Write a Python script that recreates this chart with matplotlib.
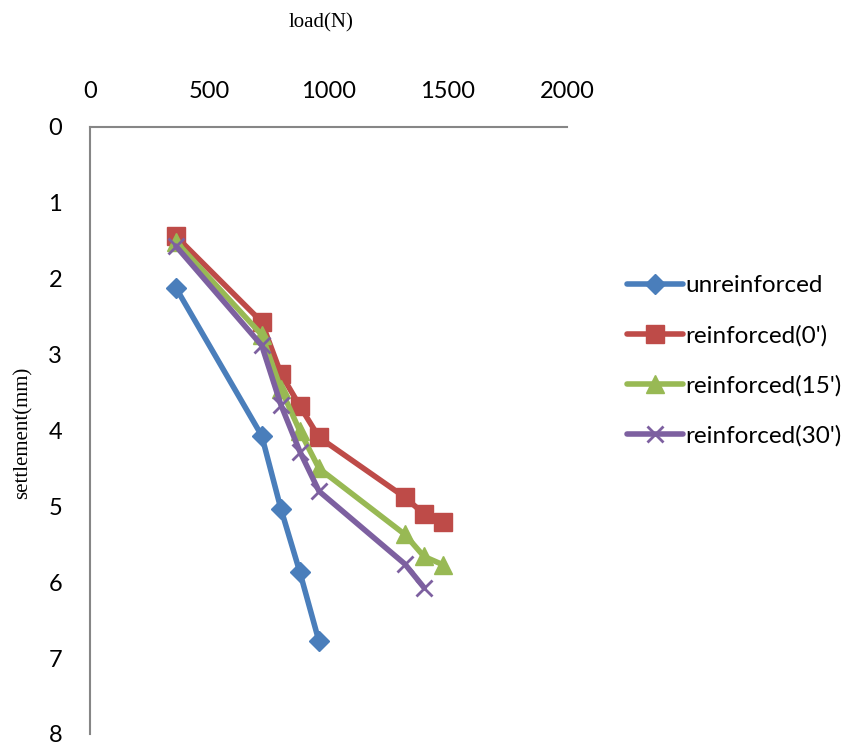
import matplotlib
matplotlib.use('Agg')
import matplotlib.pyplot as plt

# load (N) and settlement (mm)
load_un = [360, 720, 800, 880, 960]
settle_un = [2.12, 4.07, 5.03, 5.87, 6.78]

load_r = [360, 720, 800, 880, 960, 1320, 1400, 1480]
settle_r0 = [1.44, 2.57, 3.25, 3.68, 4.09, 4.88, 5.10, 5.20]
settle_r15 = [1.51, 2.74, 3.45, 4.01, 4.50, 5.37, 5.66, 5.77]
settle_r30 = [1.57, 2.88, 3.66, 4.28, 4.80, 5.76, 6.07]

labels = ['unreinforced', "reinforced(0')", "reinforced(15')", "reinforced(30')"]
xticks = [0, 500, 1000, 1500, 2000]
yticks = [0, 1, 2, 3, 4, 5, 6, 7, 8]

plt.rcParams['font.family'] = ['Lato', 'DejaVu Sans']

fig = plt.figure(figsize=(8.47, 7.46), dpi=100)
ax = fig.add_axes([0.1063, 0.0161, 0.5632, 0.8137])

ax.plot(load_un, settle_un, color='#4A7EBB', lw=4, marker='D', ms=10,
        label=labels[0], solid_capstyle='round', solid_joinstyle='round')
ax.plot(load_r, settle_r0, color='#BE4B48', lw=4, marker='s', ms=13,
        label=labels[1], solid_capstyle='round', solid_joinstyle='round')
ax.plot(load_r, settle_r15, color='#98B954', lw=4, marker='^', ms=13,
        label=labels[2], solid_capstyle='round', solid_joinstyle='round')
ax.plot(load_r[:len(settle_r30)], settle_r30, color='#7D60A0', lw=4, marker='x',
        ms=12, mew=2, label=labels[3], solid_capstyle='round', solid_joinstyle='round')

ax.set_xlim(0, 2000)
ax.set_ylim(8, 0)
ax.xaxis.tick_top()
ax.set_xticks(xticks)
ax.set_yticks(yticks)
ax.tick_params(length=0, labelsize=17)
ax.tick_params(axis='x', pad=18)
ax.tick_params(axis='y', pad=20)

for s in ['right', 'bottom']:
    ax.spines[s].set_visible(False)
for s in ['top', 'left']:
    ax.spines[s].set_color('#868686')
    ax.spines[s].set_linewidth(1.5)

fig.text(0.379, 0.97, 'load(N)', family='Liberation Serif', fontsize=15,
         ha='center', va='center')
fig.text(0.027, 0.42, 'settlement(mm)', family='Liberation Serif', fontsize=15,
         rotation=90, ha='center', va='center')

leg = ax.legend(loc='center left', bbox_to_anchor=(1.105, 0.615), frameon=False,
                prop={'size': 17.5}, handlelength=2.3,
                handletextpad=0.1, labelspacing=1.17, borderaxespad=0)

fig.savefig('out.png', dpi=100)
